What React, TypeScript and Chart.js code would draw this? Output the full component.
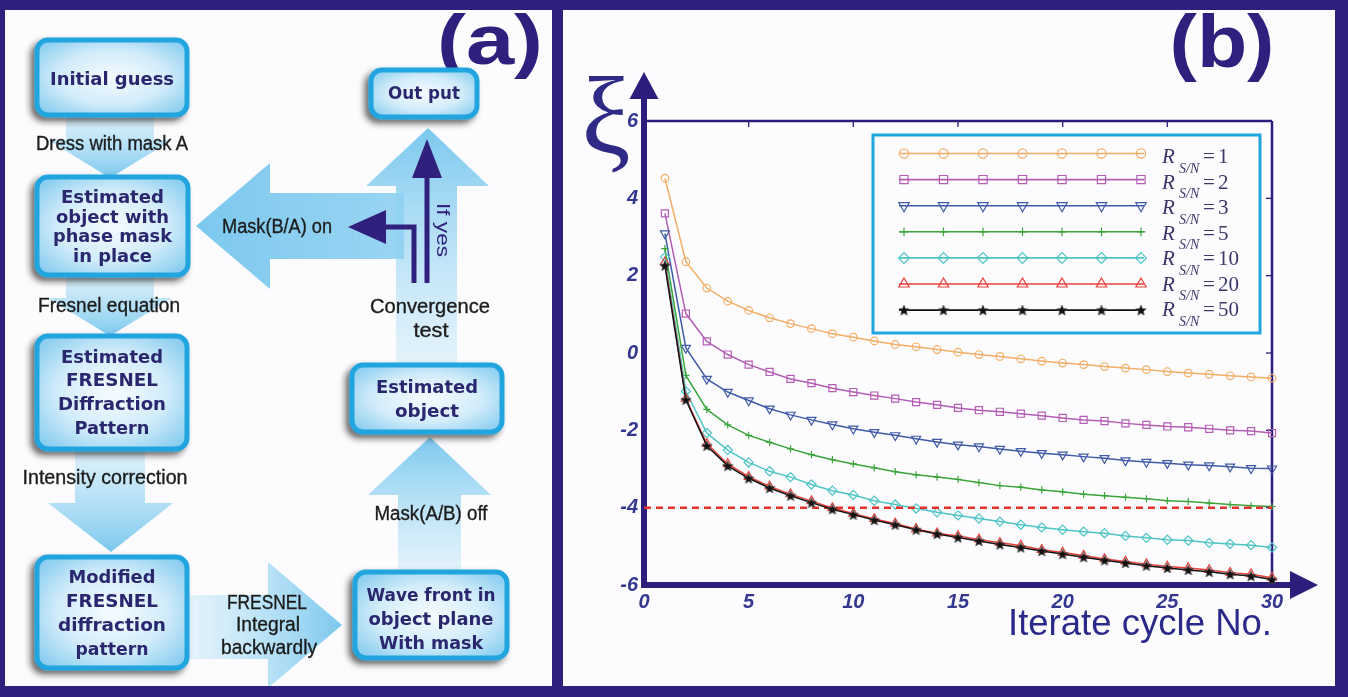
import React, { useEffect, useRef } from 'react';
import { Chart, registerables } from 'chart.js';
import { drawPoint } from 'chart.js/helpers';

Chart.register(...registerables);

// ---------------- DATA ----------------
const CYCLES = [1, 2, 3, 4, 5, 6, 7, 8, 9, 10, 11, 12, 13, 14, 15, 16, 17, 18, 19, 20, 21, 22, 23, 24, 25, 26, 27, 28, 29, 30];
const SNR_LABELS = ['1', '2', '3', '5', '10', '20', '50'];
const XI_SNR1 = [4.52, 2.36, 1.68, 1.34, 1.1, 0.91, 0.76, 0.63, 0.5, 0.41, 0.31, 0.22, 0.16, 0.09, 0.02, -0.04, -0.09, -0.15, -0.21, -0.26, -0.3, -0.35, -0.39, -0.43, -0.48, -0.52, -0.55, -0.59, -0.62, -0.65];
const XI_SNR2 = [3.61, 1.02, 0.3, -0.04, -0.3, -0.49, -0.67, -0.78, -0.91, -1.01, -1.1, -1.18, -1.27, -1.34, -1.42, -1.48, -1.52, -1.57, -1.62, -1.68, -1.73, -1.76, -1.82, -1.86, -1.9, -1.92, -1.96, -2.0, -2.02, -2.07];
const XI_SNR3 = [3.09, 0.13, -0.67, -1.01, -1.23, -1.44, -1.6, -1.73, -1.85, -1.96, -2.05, -2.13, -2.22, -2.3, -2.37, -2.42, -2.48, -2.54, -2.59, -2.63, -2.68, -2.72, -2.78, -2.82, -2.85, -2.89, -2.91, -2.94, -2.98, -2.99];
const XI_SNR5 = [2.7, -0.58, -1.46, -1.86, -2.13, -2.31, -2.48, -2.63, -2.76, -2.87, -2.97, -3.07, -3.15, -3.21, -3.27, -3.35, -3.43, -3.47, -3.54, -3.59, -3.65, -3.69, -3.73, -3.77, -3.82, -3.84, -3.88, -3.92, -3.95, -3.97];
const XI_SNR10 = [2.48, -0.99, -2.07, -2.51, -2.83, -3.06, -3.21, -3.4, -3.56, -3.67, -3.82, -3.92, -4.02, -4.12, -4.2, -4.28, -4.36, -4.44, -4.51, -4.57, -4.62, -4.66, -4.73, -4.78, -4.83, -4.85, -4.91, -4.94, -4.97, -5.03];
const XI_SNR20 = [2.35, -1.18, -2.35, -2.87, -3.2, -3.45, -3.65, -3.83, -4.01, -4.15, -4.29, -4.41, -4.55, -4.66, -4.73, -4.82, -4.91, -4.98, -5.09, -5.16, -5.24, -5.33, -5.39, -5.46, -5.52, -5.56, -5.61, -5.68, -5.72, -5.81];
const XI_SNR50 = [2.26, -1.21, -2.4, -2.92, -3.24, -3.49, -3.69, -3.87, -4.04, -4.18, -4.32, -4.44, -4.57, -4.68, -4.77, -4.86, -4.95, -5.03, -5.12, -5.2, -5.28, -5.36, -5.43, -5.5, -5.56, -5.61, -5.66, -5.72, -5.77, -5.86];
const THRESHOLD = -4;
const THRESHOLD_RANGE = [0, 30];
const X_RANGE = [0, 30];
const Y_RANGE = [-6, 6];

// ---------------- STYLE ----------------
const NAVY = '#30207e';
const AXIS_NAVY = '#2c1f7c';
const TICK_COLOR = '#35388f';
const LEGEND_TEXT = '#3b386a';

function makeStar(size: number) {
  const c = document.createElement('canvas');
  c.width = size;
  c.height = size;
  const g = c.getContext('2d')!;
  const cx = size / 2, cy = size / 2 + 0.5, R = size / 2 - 0.5, r = R * 0.45;
  g.beginPath();
  for (let i = 0; i < 10; i++) {
    const a = -Math.PI / 2 + (i * Math.PI) / 5;
    const rad = i % 2 === 0 ? R : r;
    g.lineTo(cx + rad * Math.cos(a), cy + rad * Math.sin(a));
  }
  g.closePath();
  g.fillStyle = '#111';
  g.fill();
  g.strokeStyle = '#555';
  g.lineWidth = 0.7;
  g.stroke();
  return c;
}

const frameAxesPlugin = {
  id: 'frameAxes',
  beforeDatasetsDraw(chart: any) {
    const { ctx, chartArea } = chart;
    const { left, right, top, bottom } = chartArea;
    const xs = chart.scales.x, ys = chart.scales.y;
    ctx.save();
    ctx.strokeStyle = AXIS_NAVY;
    ctx.fillStyle = AXIS_NAVY;
    ctx.lineCap = 'butt';
    ctx.lineWidth = 2.5;
    ctx.beginPath();
    ctx.moveTo(left, top);
    ctx.lineTo(right, top);
    ctx.moveTo(right, top);
    ctx.lineTo(right, bottom);
    ctx.stroke();
    ctx.lineWidth = 1.3;
    xs.ticks.forEach((t: any) => {
      if (t.value <= X_RANGE[0] || t.value >= X_RANGE[1]) return;
      const x = xs.getPixelForValue(t.value);
      ctx.beginPath();
      ctx.moveTo(x, top);
      ctx.lineTo(x, top + 6);
      ctx.stroke();
    });
    ys.ticks.forEach((t: any) => {
      if (t.value <= Y_RANGE[0] || t.value >= Y_RANGE[1]) return;
      const y = ys.getPixelForValue(t.value);
      ctx.beginPath();
      ctx.moveTo(right - 6, y);
      ctx.lineTo(right, y);
      ctx.stroke();
    });
    ctx.lineWidth = 6;
    ctx.beginPath();
    ctx.moveTo(left, bottom + 3);
    ctx.lineTo(left, top - 24);
    ctx.moveTo(left - 3, bottom);
    ctx.lineTo(right + 20, bottom);
    ctx.stroke();
    ctx.beginPath();
    ctx.moveTo(left, top - 49);
    ctx.lineTo(left - 14.5, top - 22);
    ctx.lineTo(left + 14.5, top - 22);
    ctx.closePath();
    ctx.fill();
    ctx.beginPath();
    ctx.moveTo(right + 46, bottom);
    ctx.lineTo(right + 18, bottom - 14);
    ctx.lineTo(right + 18, bottom + 14);
    ctx.closePath();
    ctx.fill();
    ctx.restore();
  },
};

const legendPlugin = {
  id: 'snrLegend',
  afterDatasetsDraw(chart: any) {
    const ctx = chart.ctx;
    const bx = 310, by = 125, bw = 387, bh = 198;
    ctx.save();
    ctx.fillStyle = '#fcfcfe';
    ctx.fillRect(bx, by, bw, bh);
    ctx.strokeStyle = '#1fa6de';
    ctx.lineWidth = 3;
    ctx.strokeRect(bx, by, bw, bh);
    const rowY0 = 143.5, rowStep = 26.1;
    const textY0 = 153, textStep = 25.55;
    const mx0 = 341, mx1 = 578;
    SNR_LABELS.forEach((label, i) => {
      const ds = chart.data.datasets[i];
      const y = rowY0 + i * rowStep;
      ctx.strokeStyle = ds.borderColor;
      ctx.lineWidth = 1.6;
      ctx.setLineDash([]);
      ctx.beginPath();
      ctx.moveTo(mx0 - 5, y);
      ctx.lineTo(mx1 + 3, y);
      ctx.stroke();
      for (let k = 0; k < 7; k++) {
        const x = mx0 + (k * (mx1 - mx0)) / 6;
        ctx.strokeStyle = ds.pointBorderColor;
        ctx.fillStyle = ds.pointBackgroundColor;
        ctx.lineWidth = ds.pointBorderWidth;
        drawPoint(
          ctx,
          {
            pointStyle: ds.pointStyle,
            rotation: ds.pointRotation || 0,
            radius: ds.pointRadius + 0.8,
            borderWidth: ds.pointBorderWidth,
          } as any,
          x,
          y
        );
      }
      const ty = textY0 + i * textStep;
      ctx.fillStyle = LEGEND_TEXT;
      ctx.textAlign = 'left';
      ctx.textBaseline = 'alphabetic';
      ctx.font = 'italic 21px "Liberation Serif", "Times New Roman", serif';
      ctx.fillText('R', 599, ty);
      ctx.font = 'italic 14px "Liberation Serif", "Times New Roman", serif';
      ctx.fillText('S/N', 616, ty + 9.5);
      ctx.font = '21px "Liberation Serif", "Times New Roman", serif';
      ctx.fillText('=', 640, ty);
      ctx.fillText(label, 655, ty);
    });
    ctx.restore();
  },
};

function ChartPanel() {
  const ref = useRef<HTMLCanvasElement | null>(null);
  useEffect(() => {
    if (!ref.current) return;
    const star = makeStar(12);
    const mk = (data: number[]) => CYCLES.map((c, i) => ({ x: c, y: data[i] }));
    const series = [
      { data: XI_SNR1, color: '#f2ad66', style: 'circle', radius: 3.8, rot: 0, order: 6 },
      { data: XI_SNR2, color: '#b35db3', style: 'rect', radius: 5, rot: 0, order: 5 },
      { data: XI_SNR3, color: '#3f5aa6', style: 'triangle', radius: 5.2, rot: 180, order: 4 },
      { data: XI_SNR5, color: '#3ba53b', style: 'cross', radius: 3.6, rot: 0, order: 3 },
      { data: XI_SNR10, color: '#4ec4c4', style: 'rectRot', radius: 4.6, rot: 0, order: 2 },
      { data: XI_SNR20, color: '#e8423c', style: 'triangle', radius: 5.2, rot: 0, order: 1 },
      { data: XI_SNR50, color: '#111111', style: star as any, radius: 5, rot: 0, order: -1 },
    ];
    const datasets: any[] = series.map((s, i) => ({
      label: 'R_S/N = ' + SNR_LABELS[i],
      data: mk(s.data),
      borderColor: s.color,
      borderWidth: 1.5,
      pointStyle: s.style,
      pointRadius: s.radius,
      pointRotation: s.rot,
      pointBorderColor: s.color,
      pointBackgroundColor: i === 6 ? '#111' : 'rgba(0,0,0,0)',
      pointBorderWidth: 1.2,
      tension: 0,
      clip: false,
      order: s.order,
    }));
    datasets.push({
      label: 'threshold',
      data: THRESHOLD_RANGE.map((x) => ({ x, y: THRESHOLD })),
      borderColor: '#e5312b',
      borderWidth: 2.5,
      borderDash: [7, 5],
      pointRadius: 0,
      clip: false,
      order: 0,
    });
    const tickFont = { family: '"Liberation Sans", Arial, sans-serif', size: 20, weight: 'bold' as const, style: 'italic' as const };
    const chart = new Chart(ref.current, {
      type: 'line',
      data: { datasets },
      options: {
        animation: false,
        responsive: false,
        maintainAspectRatio: false,
        layout: { padding: { left: 0, top: 111, right: 63, bottom: 61 } },
        plugins: { legend: { display: false }, tooltip: { enabled: false } },
        scales: {
          x: {
            type: 'linear',
            min: X_RANGE[0],
            max: X_RANGE[1],
            grid: { display: false, drawTicks: false },
            border: { display: false },
            ticks: { stepSize: 5, padding: 5, color: TICK_COLOR, font: tickFont, maxRotation: 0, autoSkip: false },
            afterFit: (s: any) => {
              s.height = 40;
            },
          },
          y: {
            type: 'linear',
            min: Y_RANGE[0],
            max: Y_RANGE[1],
            grid: { display: false, drawTicks: false },
            border: { display: false },
            ticks: { stepSize: 2, padding: 6, color: TICK_COLOR, font: tickFont },
            afterFit: (s: any) => {
              s.width = 81;
            },
          },
        },
      },
      plugins: [frameAxesPlugin, legendPlugin],
    });
    return () => chart.destroy();
  }, []);
  return <canvas ref={ref} width={772} height={676} style={{ display: 'block', width: 772, height: 676 }} />;
}

// ---------------- FLOWCHART (panel a) ----------------
const BOLD_FONT = "'DejaVu Sans', Verdana, sans-serif";
const LABEL_FONT = "'Liberation Sans Narrow', 'Liberation Sans', Arial, sans-serif";
const BOX_TEXT = '#2a276e';

type BoxProps = { x: number; y: number; w: number; h: number; lines: string[]; ys: number[]; widths: number[] };
function Box({ x, y, w, h, lines, ys, widths }: BoxProps) {
  const cx = x + w / 2;
  return (
    <g>
      <rect x={x} y={y} width={w} height={h} rx={11} fill="url(#boxFill)" stroke="#20a5df" strokeWidth={5} filter="url(#shadow)" />
      {lines.map((t, i) => (
        <text
          key={i}
          x={cx}
          y={ys[i]}
          textAnchor="middle"
          dominantBaseline="central"
          fontFamily={BOLD_FONT}
          fontWeight="bold"
          fontSize={17}
          fill={BOX_TEXT}
          textLength={widths[i]}
          lengthAdjust="spacingAndGlyphs"
        >
          {t}
        </text>
      ))}
    </g>
  );
}

function Label({ x, y, w, t }: { x: number; y: number; w: number; t: string }) {
  return (
    <text
      x={x}
      y={y}
      textAnchor="middle"
      dominantBaseline="central"
      fontFamily={LABEL_FONT}
      fontSize={19.5}
      fill="#1c1c1c"
      stroke="#1c1c1c"
      strokeWidth={0.35}
      textLength={w}
      lengthAdjust="spacingAndGlyphs"
    >
      {t}
    </text>
  );
}

function Flowchart() {
  return (
    <svg width={1348} height={697} style={{ position: 'absolute', left: 0, top: 0, pointerEvents: 'none' }}>
      <defs>
        <radialGradient id="boxFill" cx="0.5" cy="0.5" r="0.65">
          <stop offset="0" stopColor="#f5fbff" />
          <stop offset="0.55" stopColor="#d2ecfa" />
          <stop offset="1" stopColor="#86ccef" />
        </radialGradient>
        <filter id="shadow" x="-20%" y="-20%" width="140%" height="150%">
          <feDropShadow dx={-4} dy={4} stdDeviation={3} floodColor="#1a1a1a" floodOpacity={0.65} />
        </filter>
        <linearGradient id="gDown" x1="0" y1="0" x2="0" y2="1">
          <stop offset="0" stopColor="#b9e3f7" stopOpacity={0.45} />
          <stop offset="1" stopColor="#7cc8ee" stopOpacity={1} />
        </linearGradient>
        <linearGradient id="gUp" x1="0" y1="1" x2="0" y2="0">
          <stop offset="0" stopColor="#b9e3f7" stopOpacity={0.35} />
          <stop offset="1" stopColor="#7cc8ee" stopOpacity={1} />
        </linearGradient>
        <linearGradient id="gRight" x1="0" y1="0" x2="1" y2="0">
          <stop offset="0" stopColor="#b9e3f7" stopOpacity={0.35} />
          <stop offset="1" stopColor="#7cc8ee" stopOpacity={1} />
        </linearGradient>
        <linearGradient id="gLeft" x1="1" y1="0" x2="0" y2="0">
          <stop offset="0" stopColor="#8fd0f1" stopOpacity={0.9} />
          <stop offset="1" stopColor="#7cc8ee" stopOpacity={1} />
        </linearGradient>
        <clipPath id="panelA">
          <rect x={5} y={10} width={547} height={676} />
        </clipPath>
      </defs>

      <g clipPath="url(#panelA)">
        <text x={490} y={64} textAnchor="middle" fontFamily="'Liberation Sans', Arial, sans-serif" fontWeight="bold" fontSize={70} fill={NAVY} textLength={106} lengthAdjust="spacingAndGlyphs">
          (a)
        </text>

        {/* light arrows */}
        <polygon points="66,114 154,114 154,140 172,140 110,178 48,140 66,140" fill="url(#gDown)" />
        <polygon points="66,273 154,273 154,298 172,298 110,336 48,298 66,298" fill="url(#gDown)" />
        <polygon points="75,448 145,448 145,503 173,503 111,552 48,503 75,503" fill="url(#gDown)" />
        <polygon points="186,595 268,595 268,562 342,625 268,688 268,659 186,659" fill="url(#gRight)" />
        <polygon points="398,574 461,574 461,495 491,495 430,437 368,495 398,495" fill="url(#gUp)" />
        <polygon points="396,368 457,368 457,186 489,186 428,128 366,186 396,186" fill="url(#gUp)" />
        <polygon points="404,193 270,193 270,163 196,226 270,289 270,259 404,259" fill="url(#gLeft)" />

        {/* boxes */}
        <Box x={37} y={40} w={150} h={75} lines={['Initial guess']} ys={[79]} widths={[124]} />
        <Box x={37} y={177} w={151} h={98} lines={['Estimated', 'object with', 'phase mask', 'in place']} ys={[197, 217, 236, 256]} widths={[103, 113, 119, 79]} />
        <Box x={37} y={336} w={150} h={113} lines={['Estimated', 'FRESNEL', 'Diffraction', 'Pattern']} ys={[357, 380, 404, 428]} widths={[102, 92, 108, 75]} />
        <Box x={37} y={557} w={150} h={111} lines={['Modified', 'FRESNEL', 'diffraction', 'pattern']} ys={[577, 601, 625, 649]} widths={[87, 92, 108, 73]} />
        <Box x={355} y={572} w={152} h={86} lines={['Wave front in', 'object plane', 'With mask']} ys={[595, 619, 643]} widths={[129, 125, 104]} />
        <Box x={352} y={365} w={150} h={67} lines={['Estimated', 'object']} ys={[387, 411]} widths={[102, 64]} />
        <Box x={371} y={70} w={106} h={47} lines={['Out put']} ys={[93]} widths={[72]} />

        {/* labels */}
        <Label x={112} y={143} w={152} t="Dress with mask A" />
        <Label x={109} y={305} w={142} t="Fresnel equation" />
        <Label x={105} y={477} w={165} t="Intensity correction" />
        <Label x={277} y={226} w={110} t="Mask(B/A) on" />
        <Label x={430} y={306} w={120} t="Convergence" />
        <Label x={431} y={330} w={35} t="test" />
        <Label x={431} y={513} w={113} t="Mask(A/B) off" />
        <Label x={267} y={602} w={80} t="FRESNEL" />
        <Label x={268} y={624} w={64} t="Integral" />
        <Label x={269} y={647} w={96} t="backwardly" />

        {/* navy decision arrows */}
        <line x1={427} y1={283} x2={427} y2={172} stroke={NAVY} strokeWidth={5} />
        <polygon points="427,139 412,178 442,178" fill={NAVY} />
        <polyline points="414,283 414,227 382,227" fill="none" stroke={NAVY} strokeWidth={5} />
        <polygon points="348,227 386,210 386,244" fill={NAVY} />
        <text transform="translate(443,230) rotate(90)" textAnchor="middle" dominantBaseline="central" fontFamily={LABEL_FONT} fontSize={18} fill={NAVY} textLength={54} lengthAdjust="spacingAndGlyphs">
          If yes
        </text>
      </g>

      {/* panel b texts */}
      <text x={1222} y={67} textAnchor="middle" fontFamily="'Liberation Sans', Arial, sans-serif" fontWeight="bold" fontSize={74} fill={NAVY} textLength={105} lengthAdjust="spacingAndGlyphs">
        (b)
      </text>
      <text x={606} y={153} textAnchor="middle" fontFamily="'Liberation Serif', 'Times New Roman', serif" fontSize={110} fill="#2e2a85">
        ξ
      </text>
      <text x={1272} y={635} textAnchor="end" fontFamily="'Liberation Sans', Arial, sans-serif" fontSize={36} fill="#2b2a8a" textLength={264} lengthAdjust="spacingAndGlyphs">
        Iterate cycle No.
      </text>
    </svg>
  );
}

export default function App() {
  return (
    <div style={{ position: 'fixed', left: 0, top: 0, width: 1348, height: 697, background: NAVY, overflow: 'hidden' }}>
      <div style={{ position: 'absolute', left: 5, top: 10, width: 547, height: 676, background: '#fcfcfe' }} />
      <div style={{ position: 'absolute', left: 563, top: 10, width: 772, height: 676, background: '#fcfcfe' }}>
        <ChartPanel />
      </div>
      <Flowchart />
    </div>
  );
}
